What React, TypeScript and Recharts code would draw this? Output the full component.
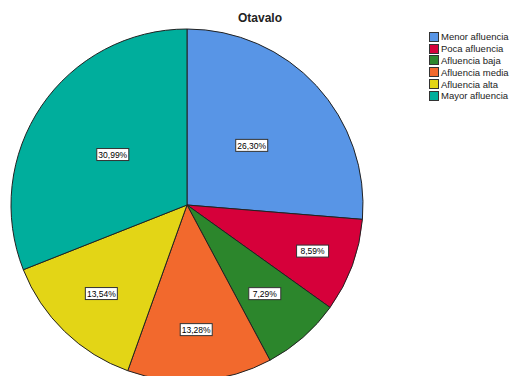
import React from "react";
import { PieChart, Pie, Cell } from "recharts";

const categories = [
  "Menor afluencia",
  "Poca afluencia",
  "Afluencia baja",
  "Afluencia media",
  "Afluencia alta",
  "Mayor afluencia",
];
const percentages = [26.3, 8.59, 7.29, 13.28, 13.54, 30.99];
const colors = ["#5895E6", "#D6003A", "#2C862C", "#F2692D", "#E3D516", "#00AE9C"];
// how far out each label box sits, as a share of the radius
const labelRadius = [0.5, 0.76, 0.67, 0.71, 0.7, 0.51];

const data = categories.map((name, i) => ({ name, value: percentages[i] }));

const RADIAN = Math.PI / 180;
const FONT = "Liberation Sans, Arial, sans-serif";

const renderLabel = (props: any) => {
  const { cx, cy, midAngle, outerRadius, value, index } = props;
  const r = outerRadius * labelRadius[index];
  const x = cx + r * Math.cos(-midAngle * RADIAN);
  const y = cy + r * Math.sin(-midAngle * RADIAN);
  const text = value.toFixed(2).replace(".", ",") + "%";
  return (
    <g>
      <rect x={x - 16} y={y - 6} width={32} height={12} fill="#ffffff" stroke="#333333" strokeWidth={1} />
      <text x={x} y={y + 3.2} textAnchor="middle" fontSize={8.5} fontFamily={FONT} fill="#000000">
        {text}
      </text>
    </g>
  );
};

export default function App() {
  return (
    <div style={{ position: "absolute", left: 0, top: 0, width: 511, height: 376, background: "#fff", overflow: "hidden" }}>
      <div
        style={{
          position: "absolute",
          left: 210,
          width: 100,
          top: 11,
          textAlign: "center",
          fontFamily: FONT,
          fontWeight: "bold",
          fontSize: 12,
          color: "#222",
        }}
      >
        Otavalo
      </div>
      <div style={{ position: "absolute", left: 429, top: 31, fontFamily: FONT, fontSize: 9.5, color: "#222", whiteSpace: "nowrap" }}>
        {categories.map((name, i) => (
          <div key={name} style={{ display: "flex", alignItems: "center", height: 11.8 }}>
            <span
              style={{
                display: "inline-block",
                width: 10,
                height: 10,
                background: colors[i],
                border: "1px solid #333",
                marginRight: 2,
                boxSizing: "border-box",
              }}
            />
            <span>{name}</span>
          </div>
        ))}
      </div>
      <PieChart width={511} height={376} margin={{ top: 0, right: 0, bottom: 0, left: 0 }}>
        <Pie
          data={data}
          dataKey="value"
          nameKey="name"
          cx={187}
          cy={205}
          outerRadius={176}
          startAngle={90}
          endAngle={-270}
          stroke="#222"
          strokeWidth={1}
          label={renderLabel}
          labelLine={false}
          isAnimationActive={false}
        >
          {data.map((d, i) => (
            <Cell key={d.name} fill={colors[i]} />
          ))}
        </Pie>
      </PieChart>
    </div>
  );
}
